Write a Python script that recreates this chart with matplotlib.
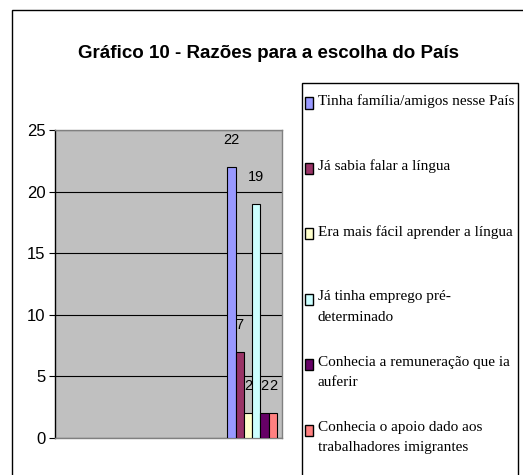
import matplotlib
matplotlib.use("Agg")
import matplotlib.pyplot as plt
from matplotlib.patches import Rectangle

# dados do gráfico
razoes = [
    "Tinha família/amigos nesse País",
    "Já sabia falar a língua",
    "Era mais fácil aprender a língua",
    "Já tinha emprego pré-\ndeterminado",
    "Conhecia a remuneração que ia\nauferir",
    "Conhecia o apoio dado aos\ntrabalhadores imigrantes",
]
valores = [22, 7, 2, 19, 2, 2]
cores = ["#9999FF", "#993366", "#FFFFCC", "#CCFFFF", "#660066", "#FF8080"]
yticks = [0, 5, 10, 15, 20, 25]

W, H = 523, 475
sans = ["Liberation Sans", "DejaVu Sans"]
serif = ["Liberation Serif", "DejaVu Serif"]

fig = plt.figure(figsize=(W / 100, H / 100), dpi=100)

def fx(px):
    return px / W

def fy(py):
    return 1 - py / H

# moldura exterior
fig.add_artist(Rectangle((fx(12), fy(500)), fx(560), fy(10) - fy(500),
                         transform=fig.transFigure, fill=False,
                         edgecolor="black", lw=1.0))

# título
fig.text(fx(268), fy(53), "Gráfico 10 - Razões para a escolha do País",
         ha="center", va="center", fontsize=13.5, fontweight="bold",
         family=sans)

# área do gráfico
ax = fig.add_axes([fx(55), fy(438), fx(282) - fx(55), fy(130) - fy(438)])
ax.set_facecolor("#C0C0C0")
pos = list(range(len(valores)))
ax.bar(pos, valores, width=1.0, color=cores, edgecolor="black", lw=0.8,
       zorder=3)
for x, v in zip(pos, valores):
    ax.annotate(str(v), (x, v), textcoords="offset points", xytext=(0, 19.5),
                ha="center", va="center", fontsize=10.5, family=sans,
                zorder=4)

ax.set_xlim(-21.25, 6.1)
ax.set_ylim(0, 25)
ax.set_yticks(yticks)
ax.set_yticklabels([str(t) for t in yticks], family=sans, fontsize=12)
ax.set_xticks([])
ax.yaxis.grid(True, color="black", lw=0.8, zorder=1)
ax.tick_params(axis="y", length=4, width=0.8, pad=3)
ax.spines["left"].set_color("black")
ax.spines["bottom"].set_color("#808080")
ax.spines["top"].set_color("#808080")
ax.spines["right"].set_color("#808080")
for s in ax.spines.values():
    s.set_linewidth(1.0)

# legenda (manual, ao estilo Excel)
fig.add_artist(Rectangle((fx(302), fy(500)), fx(518) - fx(302),
                         fy(83) - fy(500), transform=fig.transFigure,
                         fill=False, edgecolor="black", lw=1.0))
for i, (lab, cor) in enumerate(zip(razoes, cores)):
    yc = 103 + 65.4 * i
    fig.add_artist(Rectangle((fx(305), fy(yc + 5.5)), fx(8), fy(yc - 5.5) - fy(yc + 5.5),
                             transform=fig.transFigure, facecolor=cor,
                             edgecolor="black", lw=1.0))
    fig.text(fx(318), fy(yc - 9), lab, ha="left", va="top", fontsize=11,
             family=serif, linespacing=1.75)

fig.savefig("out.png", dpi=100)
